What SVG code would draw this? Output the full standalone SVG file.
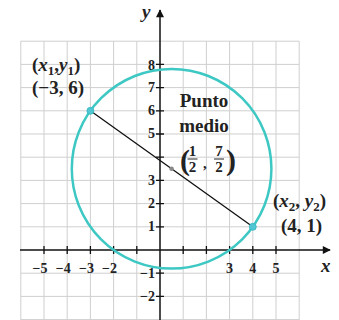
<svg xmlns="http://www.w3.org/2000/svg" width="339" height="320" viewBox="0 0 339 320">
<defs>
<style>
.grid{stroke:#cfcfcf;stroke-width:1;fill:none}
.axis{stroke:#111;stroke-width:1.5;fill:none}
.tick{stroke:#111;stroke-width:1.3}
.t{font-weight:bold;fill:#222}
.num{font-size:14px}
.lab{font-size:19px}
.it{font-style:italic}
.circle{stroke:#3ec8c4;stroke-width:2.5;fill:none}
.dot{fill:#4fc6d2;stroke:#36b6c0;stroke-width:0.8}
</style>
<marker id="arr" viewBox="0 0 10 10" refX="9" refY="5" markerWidth="10" markerHeight="8" markerUnits="userSpaceOnUse" orient="auto">
<path d="M0,0 L10,5 L0,10 Z" fill="#111"/>
</marker>
</defs>
<rect width="339" height="320" fill="#fff"/>
<g font-family="'Liberation Serif', 'Times New Roman', serif">
<g id="grid" class="grid">
<path d="M20.8,41V320 M44,41V320 M67.2,41V320 M90.4,41V320 M113.6,41V320 M136.8,41V320 M183.2,41V320 M206.4,41V320 M229.6,41V320 M252.8,41V320 M276,41V320 M299.2,41V320"/>
<path d="M20.8,41.2H299.2 M20.8,64.4H299.2 M20.8,87.6H299.2 M20.8,110.8H299.2 M20.8,134H299.2 M20.8,157.2H299.2 M20.8,180.4H299.2 M20.8,203.6H299.2 M20.8,226.8H299.2 M20.8,273.2H299.2 M20.8,296.4H299.2 M20.8,319.6H299.2"/>
</g>
<g id="axes">
<line class="axis" x1="20" y1="250" x2="330" y2="250" marker-end="url(#arr)"/>
<line class="axis" x1="160" y1="320" x2="160" y2="10" marker-end="url(#arr)"/>
<g class="tick">
<path d="M44,246V254 M67.2,246V254 M90.4,246V254 M113.6,246V254 M136.8,246V254 M183.2,246V254 M206.4,246V254 M229.6,246V254 M252.8,246V254 M276,246V254"/>
<path d="M156,64.4H164 M156,87.6H164 M156,110.8H164 M156,134H164 M156,157.2H164 M156,180.4H164 M156,203.6H164 M156,226.8H164 M156,273.2H164 M156,296.4H164"/>
</g>
<g class="t num">
<text x="47.5" y="273" text-anchor="end">−5</text>
<text x="70.7" y="273" text-anchor="end">−4</text>
<text x="93.9" y="273" text-anchor="end">−3</text>
<text x="117.1" y="273" text-anchor="end">−2</text>
<text x="229.6" y="273" text-anchor="middle">3</text>
<text x="252.8" y="273" text-anchor="middle">4</text>
<text x="276" y="273" text-anchor="middle">5</text>
<text x="155" y="70" text-anchor="end">8</text>
<text x="155" y="92" text-anchor="end">7</text>
<text x="155" y="115" text-anchor="end">6</text>
<text x="155" y="138" text-anchor="end">5</text>
<text x="155" y="185" text-anchor="end">3</text>
<text x="155" y="208" text-anchor="end">2</text>
<text x="155" y="231" text-anchor="end">1</text>
<text x="155" y="277.5" text-anchor="end">−1</text>
<text x="155" y="301" text-anchor="end">−2</text>
</g>
<text class="t lab it" x="142" y="18">y</text>
<text class="t lab it" x="321" y="272">x</text>
</g>
<g id="circle">
<circle class="circle" cx="171.6" cy="168.8" r="99.8"/>
</g>
<g id="connectors">
<line x1="90.4" y1="110.8" x2="252.8" y2="226.8" stroke="#111" stroke-width="1.3"/>
</g>
<g id="p1">
<circle class="dot" cx="90.4" cy="110.8" r="3.5"/>
<text class="t lab" x="32" y="71">(<tspan class="it">x</tspan><tspan font-size="13" dy="4">1</tspan><tspan dy="-4">,</tspan><tspan class="it">y</tspan><tspan font-size="13" dy="4">1</tspan><tspan dy="-4">)</tspan></text>
<text class="t lab" x="32" y="94">(−3, 6)</text>
</g>
<g id="p2">
<circle class="dot" cx="252.8" cy="226.8" r="3.5"/>
<text class="t lab" x="273" y="207">(<tspan class="it">x</tspan><tspan font-size="13" dy="4">2</tspan><tspan dy="-4">, </tspan><tspan class="it">y</tspan><tspan font-size="13" dy="4">2</tspan><tspan dy="-4">)</tspan></text>
<text class="t lab" x="281" y="232">(4, 1)</text>
</g>
<g id="midpoint">
<circle cx="171.6" cy="168.8" r="2.3" fill="#8a8a8a"/>
<text class="t lab" x="204" y="107" text-anchor="middle">Punto</text>
<text class="t lab" x="204" y="132" text-anchor="middle">medio</text>
<text class="t" x="180" y="170" font-size="30" font-weight="normal">(</text>
<text class="t" x="192.5" y="156" font-size="15" text-anchor="middle">1</text>
<line x1="187.5" y1="159" x2="197.5" y2="159" stroke="#222" stroke-width="1"/>
<text class="t" x="192.5" y="172" font-size="15" text-anchor="middle">2</text>
<text class="t" x="203" y="168" font-size="15">,</text>
<text class="t" x="219" y="156" font-size="15" text-anchor="middle">7</text>
<line x1="214" y1="159" x2="224" y2="159" stroke="#222" stroke-width="1"/>
<text class="t" x="219" y="172" font-size="15" text-anchor="middle">2</text>
<text class="t" x="226" y="170" font-size="30" font-weight="normal">)</text>
</g>
</g>
</svg>
